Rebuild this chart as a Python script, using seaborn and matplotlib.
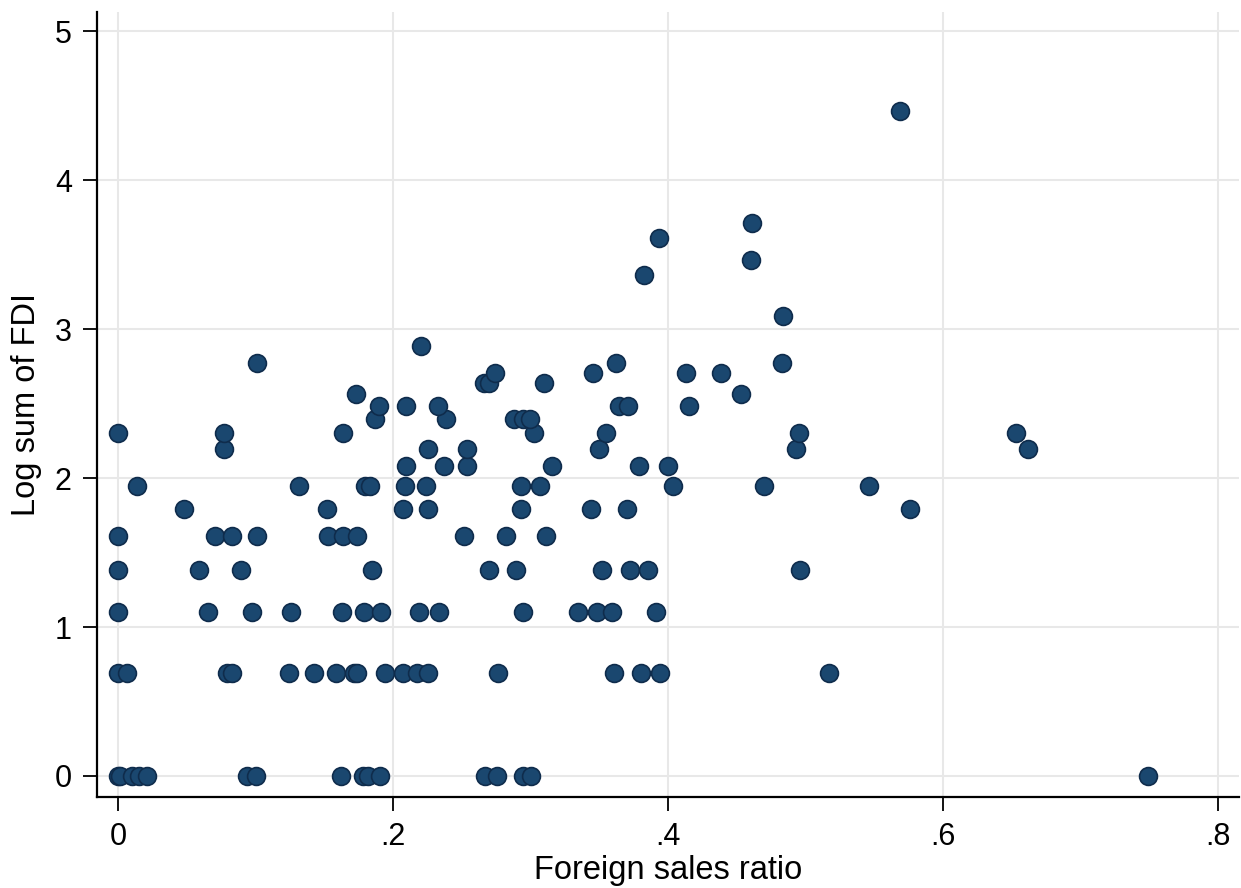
import pandas as pd
import seaborn as sns
import matplotlib.pyplot as plt

# values, one row of points per FDI level
fdi_levels = [0.0, 0.693, 1.099, 1.386, 1.609, 1.792, 1.946, 2.079, 2.197, 2.303,
              2.398, 2.485, 2.565, 2.639, 2.708, 2.773, 2.890, 3.091, 3.367,
              3.466, 3.611, 3.714, 4.466]

sales_by_level = [
    [0.0, 0.0015, 0.0102, 0.0153, 0.0211, 0.0939, 0.1005, 0.1623, 0.1783, 0.182,
     0.1907, 0.2672, 0.2759, 0.2948, 0.3006, 0.749],
    [0.0, 0.0068, 0.0791, 0.0828, 0.1245, 0.1427, 0.1587, 0.1718, 0.174, 0.1944,
     0.2072, 0.2174, 0.2259, 0.2768, 0.3605, 0.3807, 0.394, 0.517],
    [0.0, 0.0657, 0.0973, 0.1259, 0.1631, 0.1793, 0.1911, 0.2191, 0.2332, 0.2946,
     0.3343, 0.3485, 0.3594, 0.3911],
    [0.0, 0.0592, 0.0895, 0.1847, 0.2701, 0.2897, 0.3521, 0.3725, 0.3853, 0.4959],
    [0.0, 0.0706, 0.0832, 0.1014, 0.1527, 0.164, 0.1738, 0.2521, 0.2822, 0.3113],
    [0.048, 0.1524, 0.2072, 0.2254, 0.2934, 0.3441, 0.3703, 0.5758],
    [0.0136, 0.1318, 0.1798, 0.1834, 0.2089, 0.224, 0.2931, 0.3067, 0.4035, 0.4699, 0.546],
    [0.2094, 0.2375, 0.2538, 0.3161, 0.3787, 0.4001],
    [0.0774, 0.2254, 0.2538, 0.3501, 0.4933, 0.6617],
    [0.0, 0.0774, 0.164, 0.3023, 0.355, 0.4952, 0.653],
    [0.1871, 0.2385, 0.2878, 0.2946, 0.2999],
    [0.1902, 0.2094, 0.2327, 0.3642, 0.3707, 0.4157],
    [0.1732, 0.4535],
    [0.2664, 0.27, 0.3096],
    [0.2744, 0.3455, 0.4132, 0.4389],
    [0.1013, 0.3623, 0.483],
    [0.2204],
    [0.4834],
    [0.3829],
    [0.4608],
    [0.3938],
    [0.4615],
    [0.569],
]

x_ticks = [0, 0.2, 0.4, 0.6, 0.8]
x_ticklabels = ['0', '.2', '.4', '.6', '.8']
y_ticks = [0, 1, 2, 3, 4, 5]

rows = []
for level, sales in zip(fdi_levels, sales_by_level):
    for s in sales:
        rows.append((s, level))
df = pd.DataFrame(rows, columns=['Foreign sales ratio', 'Log sum of FDI'])

sns.set_style('white')
plt.rcParams['font.family'] = ['Liberation Sans', 'DejaVu Sans']
plt.rcParams['text.color'] = 'black'
plt.rcParams['axes.labelcolor'] = 'black'
plt.rcParams['xtick.color'] = 'black'
plt.rcParams['ytick.color'] = 'black'

fig = plt.figure(figsize=(12.41, 8.88), dpi=100)
ax = fig.add_axes([0.078, 0.1025, 0.92, 0.884])

sns.scatterplot(data=df, x='Foreign sales ratio', y='Log sum of FDI', ax=ax,
                s=165, color='#1a476f', edgecolor='#0f2c4c', linewidth=1.2,
                zorder=3)

ax.set_xlim(-0.0153, 0.815)
ax.set_ylim(-0.141, 5.13)
ax.set_xticks(x_ticks)
ax.set_xticklabels(x_ticklabels)
ax.set_yticks(y_ticks)
ax.grid(True, color='#e8e8e8', linewidth=1.5, zorder=0)
ax.set_axisbelow(True)

for side in ['top', 'right']:
    ax.spines[side].set_visible(False)
for side in ['left', 'bottom']:
    ax.spines[side].set_color('black')
    ax.spines[side].set_linewidth(1.6)

ax.tick_params(axis='both', which='major', direction='out', length=10,
               width=1.3, color='black', labelcolor='black', labelsize=22,
               pad=8, left=True, bottom=True)
ax.set_xlabel('Foreign sales ratio', fontsize=23.5, labelpad=2)
ax.set_ylabel('Log sum of FDI', fontsize=23.5, labelpad=9)

fig.savefig('out.png', dpi=100)
